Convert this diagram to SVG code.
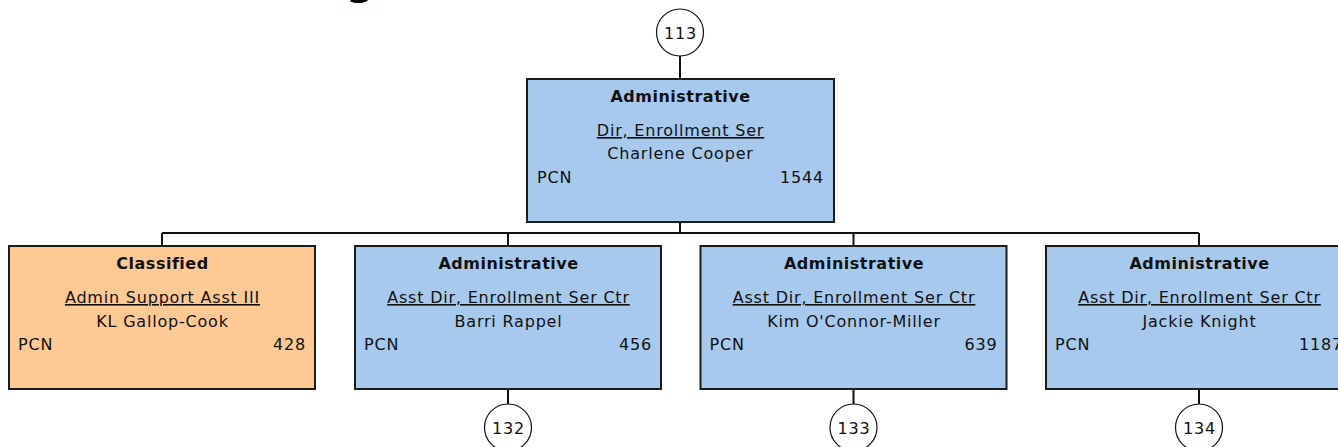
<svg xmlns="http://www.w3.org/2000/svg" width="1338" height="447" viewBox="0 0 1338 447">
<style>
  .box { stroke: #1c1c1c; stroke-width: 2; }
  .adm { fill: #A7C9EE; }
  .cls { fill: #FEC994; }
  .t { font-family: "DejaVu Sans", Verdana, sans-serif; font-size: 16px; fill: #111; letter-spacing: 0.8px; }
  .b { font-weight: bold; letter-spacing: 0.5px; }
  .u { text-decoration: underline; }
  .m { text-anchor: middle; }
  .e { text-anchor: end; }
  .conn { stroke: #111; stroke-width: 2; fill: none; }
  .circ { fill: #fff; stroke: #111; stroke-width: 1.2; }
  .head { font-family: "DejaVu Sans", Verdana, sans-serif; font-size: 40px; font-weight: bold; fill: #000; }
</style>
<rect width="1338" height="447" fill="#fff"/>
<text class="head" x="346" y="-6">g</text>
<g id="connectors">
  <path class="conn" d="M680 56 V79"/>
  <path class="conn" d="M680 222 V233 M162 233 H1199 M162 233 V246 M508 233 V246 M853.5 233 V246 M1199 233 V246"/>
  <path class="conn" d="M508 389 V404 M853.5 389 V404 M1199 389 V404"/>
</g>
<g id="ref-113">
  <circle class="circ" cx="680" cy="32.5" r="23.5"/>
  <text class="t m" x="680.4" y="38.5">113</text>
</g>
<g id="node-1544">
  <rect class="box adm" x="527" y="79" width="307" height="143"/>
  <text class="t b m" x="680.5" y="102">Administrative</text>
  <text class="t u m" x="680.5" y="136">Dir, Enrollment Ser</text>
  <text class="t m" x="680.5" y="159">Charlene Cooper</text>
  <text class="t" x="537" y="183">PCN</text>
  <text class="t e" x="824" y="183">1544</text>
</g>
<g id="node-428">
  <rect class="box cls" x="9" y="246" width="306" height="143"/>
  <text class="t b m" x="162.5" y="269">Classified</text>
  <text class="t u m" x="162.5" y="303">Admin Support Asst III</text>
  <text class="t m" x="162.5" y="327">KL Gallop-Cook</text>
  <text class="t" x="18" y="350">PCN</text>
  <text class="t e" x="306" y="350">428</text>
</g>
<g id="node-456">
  <rect class="box adm" x="355" y="246" width="306" height="143"/>
  <text class="t b m" x="508.5" y="269">Administrative</text>
  <text class="t u m" x="508.5" y="303">Asst Dir, Enrollment Ser Ctr</text>
  <text class="t m" x="508.5" y="327">Barri Rappel</text>
  <text class="t" x="364" y="350">PCN</text>
  <text class="t e" x="652" y="350">456</text>
</g>
<g id="node-639">
  <rect class="box adm" x="700.5" y="246" width="306" height="143"/>
  <text class="t b m" x="854" y="269">Administrative</text>
  <text class="t u m" x="854" y="303">Asst Dir, Enrollment Ser Ctr</text>
  <text class="t m" x="854" y="327">Kim O'Connor-Miller</text>
  <text class="t" x="709.5" y="350">PCN</text>
  <text class="t e" x="997.5" y="350">639</text>
</g>
<g id="node-1187">
  <rect class="box adm" x="1046" y="246" width="306" height="143"/>
  <text class="t b m" x="1199.5" y="269">Administrative</text>
  <text class="t u m" x="1199.5" y="303">Asst Dir, Enrollment Ser Ctr</text>
  <text class="t m" x="1199.5" y="327">Jackie Knight</text>
  <text class="t" x="1055" y="350">PCN</text>
  <text class="t e" x="1343" y="350">1187</text>
</g>
<g id="ref-132">
  <circle class="circ" cx="508" cy="427.5" r="23.5"/>
  <text class="t m" x="508.4" y="433.5">132</text>
</g>
<g id="ref-133">
  <circle class="circ" cx="853.5" cy="427.5" r="23.5"/>
  <text class="t m" x="853.9" y="433.5">133</text>
</g>
<g id="ref-134">
  <circle class="circ" cx="1199" cy="427.5" r="23.5"/>
  <text class="t m" x="1199.4" y="433.5">134</text>
</g>
</svg>
